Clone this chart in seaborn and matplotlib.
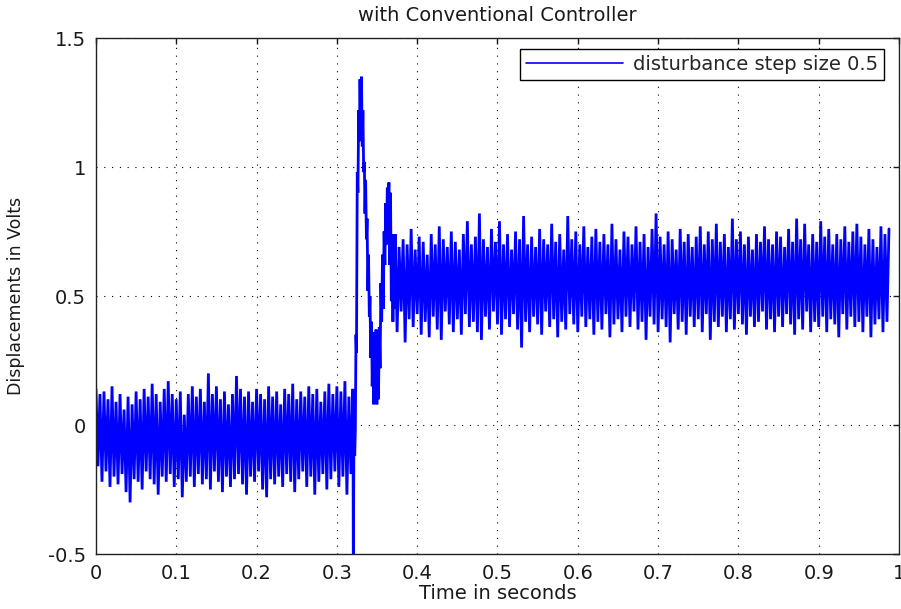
import numpy as np
import pandas as pd
import matplotlib
matplotlib.use("Agg")
import matplotlib.pyplot as plt
import seaborn as sns

# ---------------- data ----------------
title_text = "with Conventional Controller"
x_label = "Time in seconds"
y_label = "Displacements in Volts"
legend_label = "disturbance step size 0.5"

x_ticks = [0, 0.1, 0.2, 0.3, 0.4, 0.5, 0.6, 0.7, 0.8, 0.9, 1.0]
x_tick_labels = ["0", "0.1", "0.2", "0.3", "0.4", "0.5", "0.6", "0.7", "0.8", "0.9", "1"]
y_ticks = [-0.5, 0, 0.5, 1.0, 1.5]
y_tick_labels = ["-0.5", "0", "0.5", "1", "1.5"]

sample_step = 0.0025          # seconds between samples of the noisy segments
pre_start = 0.0
post_start = 0.3725

# noisy signal before the disturbance (alternating crest / trough readings)
pre_values = [
    0.14, -0.16, 0.12, -0.22, 0.13, -0.18, 0.10, -0.24, 0.15, -0.20,
    0.09, -0.23, 0.12, -0.19, 0.06, -0.26, 0.11, -0.30, 0.08, -0.21,
    0.13, -0.22, 0.10, -0.25, 0.14, -0.18, 0.11, -0.21, 0.16, -0.23,
    0.12, -0.27, 0.09, -0.20, 0.14, -0.22, 0.17, -0.19, 0.12, -0.24,
    0.10, -0.21, 0.13, -0.28, 0.04, -0.22, 0.12, -0.20, 0.15, -0.24,
    0.11, -0.19, 0.14, -0.23, 0.09, -0.21, 0.20, -0.25, 0.12, -0.18,
    0.15, -0.22, 0.10, -0.26, 0.13, -0.20, 0.08, -0.24, 0.12, -0.21,
    0.19, -0.19, 0.14, -0.23, 0.11, -0.27, 0.13, -0.20, 0.09, -0.22,
    0.14, -0.18, 0.12, -0.25, 0.10, -0.28, 0.15, -0.21, 0.11, -0.23,
    0.13, -0.20, 0.08, -0.24, 0.14, -0.19, 0.12, -0.22, 0.16, -0.26,
    0.10, -0.21, 0.13, -0.18, 0.11, -0.24, 0.15, -0.20, 0.12, -0.27,
    0.14, -0.22, 0.09, -0.19, 0.13, -0.25, 0.16, -0.21, 0.12, -0.18,
    0.15, -0.24, 0.13, -0.20, 0.17, -0.27, 0.11, -0.19, 0.14,
]

# transient after the disturbance step
transient_t = [
    0.3205, 0.3213, 0.3222, 0.3230, 0.3238, 0.3244, 0.3254, 0.3262, 0.3272, 0.3280,
    0.3288, 0.3296, 0.3306, 0.3316, 0.3324, 0.3334, 0.3342, 0.3350, 0.3358, 0.3368,
    0.3376, 0.3386, 0.3394, 0.3404, 0.3412, 0.3422, 0.3432, 0.3440, 0.3450, 0.3460,
    0.3468, 0.3478, 0.3488, 0.3498, 0.3508, 0.3518, 0.3528, 0.3538, 0.3548, 0.3558,
    0.3568, 0.3578, 0.3588, 0.3598, 0.3608, 0.3618, 0.3628, 0.3638, 0.3648, 0.3658,
    0.3668, 0.3678, 0.3688, 0.3698, 0.3708, 0.3716,
]
transient_values = [
    -0.60, 0.05, -0.12, -0.02, 0.35, 0.28, 0.98, 0.90, 1.22, 1.10,
    1.34, 1.18, 1.35, 1.08, 1.22, 0.98, 1.02, 0.82, 0.95, 0.72,
    0.80, 0.52, 0.66, 0.42, 0.50, 0.26, 0.40, 0.15, 0.36, 0.08,
    0.33, 0.09, 0.37, 0.08, 0.35, 0.10, 0.38, 0.22, 0.55, 0.40,
    0.66, 0.45, 0.75, 0.62, 0.86, 0.70, 0.92, 0.78, 0.94, 0.62,
    0.90, 0.48, 0.74, 0.40, 0.70, 0.45,
]

# noisy signal after settling (alternating crest / trough readings)
post_values = [
    0.74, 0.36, 0.69, 0.44, 0.72, 0.32, 0.70, 0.41, 0.76, 0.38,
    0.68, 0.43, 0.73, 0.35, 0.71, 0.40, 0.66, 0.34, 0.74, 0.42,
    0.70, 0.37, 0.77, 0.33, 0.72, 0.44, 0.69, 0.39, 0.75, 0.36,
    0.71, 0.41, 0.68, 0.35, 0.74, 0.43, 0.79, 0.38, 0.70, 0.40,
    0.73, 0.36, 0.82, 0.33, 0.72, 0.42, 0.69, 0.37, 0.76, 0.44,
    0.71, 0.39, 0.79, 0.35, 0.70, 0.41, 0.74, 0.38, 0.68, 0.43,
    0.75, 0.37, 0.72, 0.30, 0.81, 0.40, 0.70, 0.36, 0.73, 0.42,
    0.69, 0.39, 0.76, 0.35, 0.72, 0.44, 0.70, 0.38, 0.78, 0.41,
    0.71, 0.34, 0.74, 0.40, 0.68, 0.37, 0.81, 0.43, 0.72, 0.39,
    0.75, 0.36, 0.70, 0.42, 0.77, 0.38, 0.69, 0.41, 0.73, 0.35,
    0.76, 0.40, 0.71, 0.37, 0.74, 0.43, 0.70, 0.34, 0.78, 0.39,
    0.72, 0.41, 0.68, 0.36, 0.75, 0.42, 0.73, 0.38, 0.70, 0.44,
    0.77, 0.37, 0.71, 0.40, 0.74, 0.33, 0.69, 0.42, 0.76, 0.39,
    0.82, 0.36, 0.73, 0.41, 0.70, 0.38, 0.75, 0.32, 0.72, 0.43,
    0.68, 0.37, 0.76, 0.40, 0.71, 0.35, 0.74, 0.42, 0.69, 0.38,
    0.73, 0.41, 0.77, 0.36, 0.70, 0.43, 0.75, 0.33, 0.72, 0.40,
    0.78, 0.38, 0.71, 0.42, 0.74, 0.36, 0.69, 0.41, 0.80, 0.37,
    0.72, 0.43, 0.75, 0.39, 0.70, 0.35, 0.73, 0.42, 0.68, 0.38,
    0.74, 0.40, 0.71, 0.44, 0.77, 0.37, 0.72, 0.41, 0.70, 0.36,
    0.75, 0.42, 0.73, 0.38, 0.69, 0.43, 0.76, 0.39, 0.71, 0.35,
    0.80, 0.41, 0.72, 0.37, 0.78, 0.44, 0.70, 0.36, 0.74, 0.40,
    0.71, 0.38, 0.79, 0.42, 0.73, 0.36, 0.76, 0.41, 0.70, 0.39,
    0.74, 0.34, 0.72, 0.43, 0.77, 0.37, 0.71, 0.42, 0.75, 0.38,
    0.78, 0.40, 0.73, 0.36, 0.70, 0.42, 0.76, 0.34, 0.72, 0.39,
    0.69, 0.41, 0.77, 0.36, 0.74, 0.40, 0.76,
]

# ---------------- assemble ----------------
t_pre = pre_start + np.arange(len(pre_values)) * sample_step
t_post = post_start + np.arange(len(post_values)) * sample_step
df = pd.DataFrame({
    "t": np.concatenate([t_pre, np.array(transient_t), t_post]),
    "v": np.concatenate([np.array(pre_values), np.array(transient_values), np.array(post_values)]),
})

# ---------------- plot ----------------
sns.set_style("white")
plt.rcParams["font.family"] = ["DejaVu Sans"]
plt.rcParams["axes.unicode_minus"] = False
plt.rcParams["path.simplify"] = False

fig = plt.figure(figsize=(9.01, 6.09), dpi=100)
fig.patch.set_facecolor("white")
ax = fig.add_axes([0.1065, 0.0903, 0.8913, 0.8473])

sns.lineplot(data=df, x="t", y="v", ax=ax, color="#0000ff", linewidth=2.0,
             estimator=None, sort=False, label=legend_label)
for ln in ax.get_lines():
    ln.set_solid_joinstyle("miter")

ax.set_xlim(0, 1)
ax.set_ylim(-0.5, 1.5)
ax.set_xticks(x_ticks)
ax.set_xticklabels(x_tick_labels)
ax.set_yticks(y_ticks)
ax.set_yticklabels(y_tick_labels)
ax.tick_params(axis="both", direction="in", length=4, width=1, top=True, right=True,
               labelsize=14, colors="#1a1a1a")
ax.tick_params(axis="x", pad=7)
ax.tick_params(axis="y", pad=7)

ax.grid(True, color="black", linestyle=(0, (1, 6)), linewidth=0.8)
ax.set_axisbelow(True)
for sp in ax.spines.values():
    sp.set_color("#222222")
    sp.set_linewidth(1.0)

ax.set_title(title_text, fontsize=14, pad=12.5, color="#1a1a1a")
ax.set_xlabel(x_label, fontsize=14, labelpad=1, color="#1a1a1a")
ax.set_ylabel(y_label, fontsize=12.5, color="#1a1a1a")
ax.yaxis.set_label_coords(-0.088, 0.5)

leg = ax.legend(loc="upper right", bbox_to_anchor=(0.981, 0.979), borderaxespad=0,
                fontsize=14, frameon=True, fancybox=False, framealpha=1,
                edgecolor="black", handlelength=5.0, handletextpad=0.5, borderpad=0.3)
leg.get_frame().set_linewidth(1.0)
for line in leg.get_lines():
    line.set_linewidth(1.2)

fig.savefig("out.png", dpi=100, facecolor="white")
